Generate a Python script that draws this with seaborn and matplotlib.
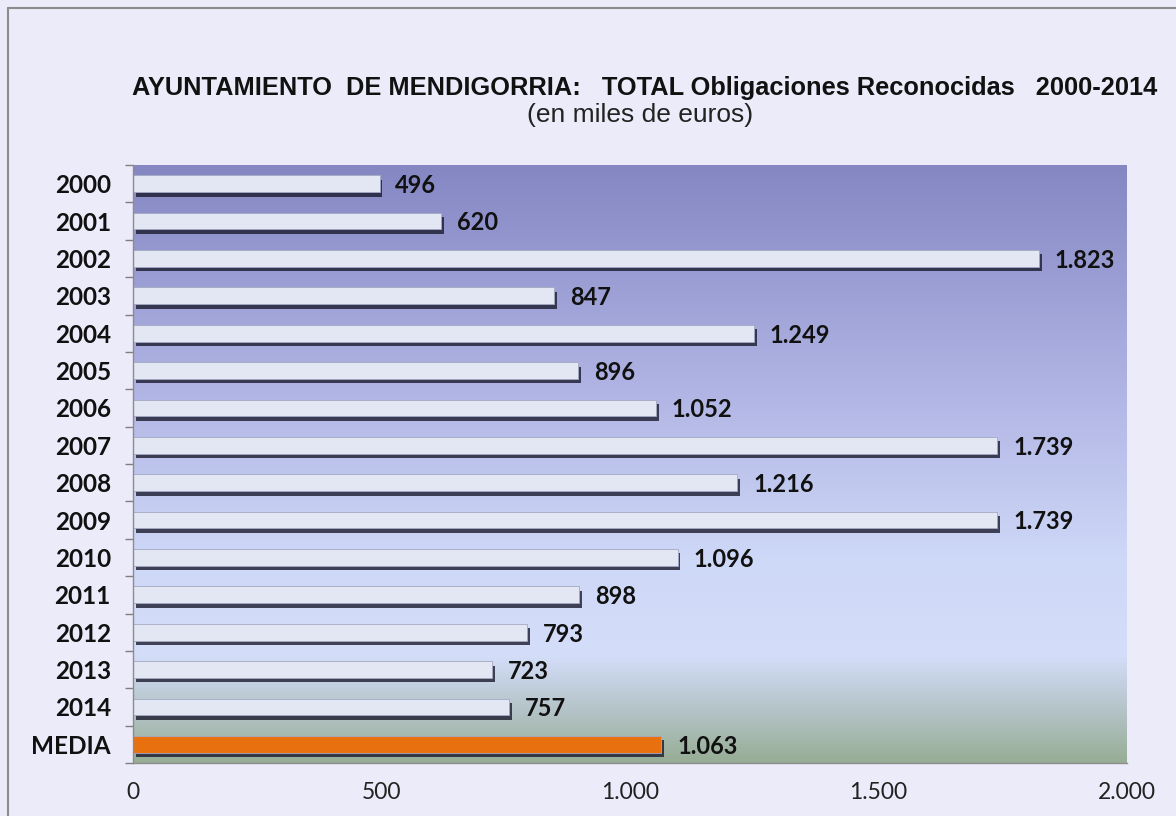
import numpy as np
import pandas as pd
import matplotlib
matplotlib.use("Agg")
import matplotlib.pyplot as plt
import matplotlib.patheffects as pe
from matplotlib.colors import LinearSegmentedColormap
from matplotlib.ticker import FuncFormatter, FixedLocator
import seaborn as sns

# data
categories = ["2000", "2001", "2002", "2003", "2004", "2005", "2006", "2007",
              "2008", "2009", "2010", "2011", "2012", "2013", "2014", "MEDIA"]
values = [496, 620, 1823, 847, 1249, 896, 1052, 1739,
          1216, 1739, 1096, 898, 793, 723, 757, 1063]
x_ticks = [0, 500, 1000, 1500, 2000]

df = pd.DataFrame({"cat": categories, "val": values})

def miles(v):
    return f"{int(round(v)):,}".replace(",", ".")

sns.set_style("white")
plt.rcParams["font.family"] = ["Lato", "DejaVu Sans"]

fig = plt.figure(figsize=(11.76, 8.16), dpi=100)
fig.patch.set_facecolor("#ECEBFA")
ax = fig.add_axes([133 / 1176, 1 - 763 / 816, (1127 - 133) / 1176, (763 - 165) / 816])

# gradient background of the plot area
bg = LinearSegmentedColormap.from_list(
    "bg", [(0.0, "#8587C3"), (0.39, "#B2B6E5"), (0.66, "#CED8F7"),
           (0.82, "#D4DEFA"), (0.90, "#B9C7CF"), (1.0, "#97AD95")])
grad = np.linspace(0, 1, 256).reshape(-1, 1)
ax.imshow(grad, cmap=bg, aspect="auto", extent=[0, 2000, 15.5, -0.5], zorder=0)

colors = ["#E3E7F3"] * (len(categories) - 1) + ["#E8700E"]
sns.barplot(data=df, x="val", y="cat", hue="cat", palette=colors, legend=False,
            orient="h", width=0.45, saturation=1, ax=ax, zorder=2,
            edgecolor="#A4A9C2", linewidth=0.6)
shadow = [pe.SimplePatchShadow(offset=(2.0, -3.2), shadow_rgbFace="#1A1B2E", alpha=0.8),
          pe.Normal()]
for p in ax.patches:
    p.set_path_effects(shadow)

for i, v in enumerate(values):
    ax.text(v + 32, i + 0.05, miles(v), va="center", ha="left",
            fontsize=17, fontweight="bold", color="#111111", zorder=3)

ax.set_xlim(0, 2000)
ax.set_ylim(15.5, -0.5)
ax.set_xticks(x_ticks)
ax.xaxis.set_major_formatter(FuncFormatter(lambda v, _: miles(v)))
ax.set_xlabel("")
ax.set_ylabel("")

ax.tick_params(axis="x", which="major", length=6, color="#7F7F7F", width=1,
               labelsize=16.5, labelcolor="#222222", pad=8, direction="out")
ax.tick_params(axis="y", which="major", length=0, labelsize=17.5, pad=16)
for lbl in ax.get_yticklabels():
    lbl.set_fontweight("bold")
    lbl.set_color("#111111")
ax.yaxis.set_minor_locator(FixedLocator(np.arange(-0.5, 16, 1)))
ax.tick_params(axis="y", which="minor", length=6, color="#7F7F7F", width=1,
               direction="out", left=True)

for side in ["top", "right"]:
    ax.spines[side].set_visible(False)
for side in ["left", "bottom"]:
    ax.spines[side].set_color("#8C8C8C")
    ax.spines[side].set_linewidth(1)

fig.text(645 / 1176, 1 - 88 / 816, "AYUNTAMIENTO  DE MENDIGORRIA:   TOTAL Obligaciones Reconocidas   2000-2014",
         ha="center", va="center", fontsize=18.3, fontweight="bold",
         family="Liberation Sans", color="#111111")
fig.text(640 / 1176, 1 - 115 / 816, "(en miles de euros)", ha="center", va="center",
         fontsize=19, family="Liberation Sans", color="#222222")

# outer frame
fig.add_artist(plt.Line2D([8 / 1176, 8 / 1176], [0, 1 - 8 / 816],
                          transform=fig.transFigure, color="#8C8C8C", lw=1.5))
fig.add_artist(plt.Line2D([8 / 1176, 1], [1 - 8 / 816, 1 - 8 / 816],
                          transform=fig.transFigure, color="#8C8C8C", lw=1.5))

fig.savefig("out.png", dpi=100, facecolor=fig.get_facecolor())
